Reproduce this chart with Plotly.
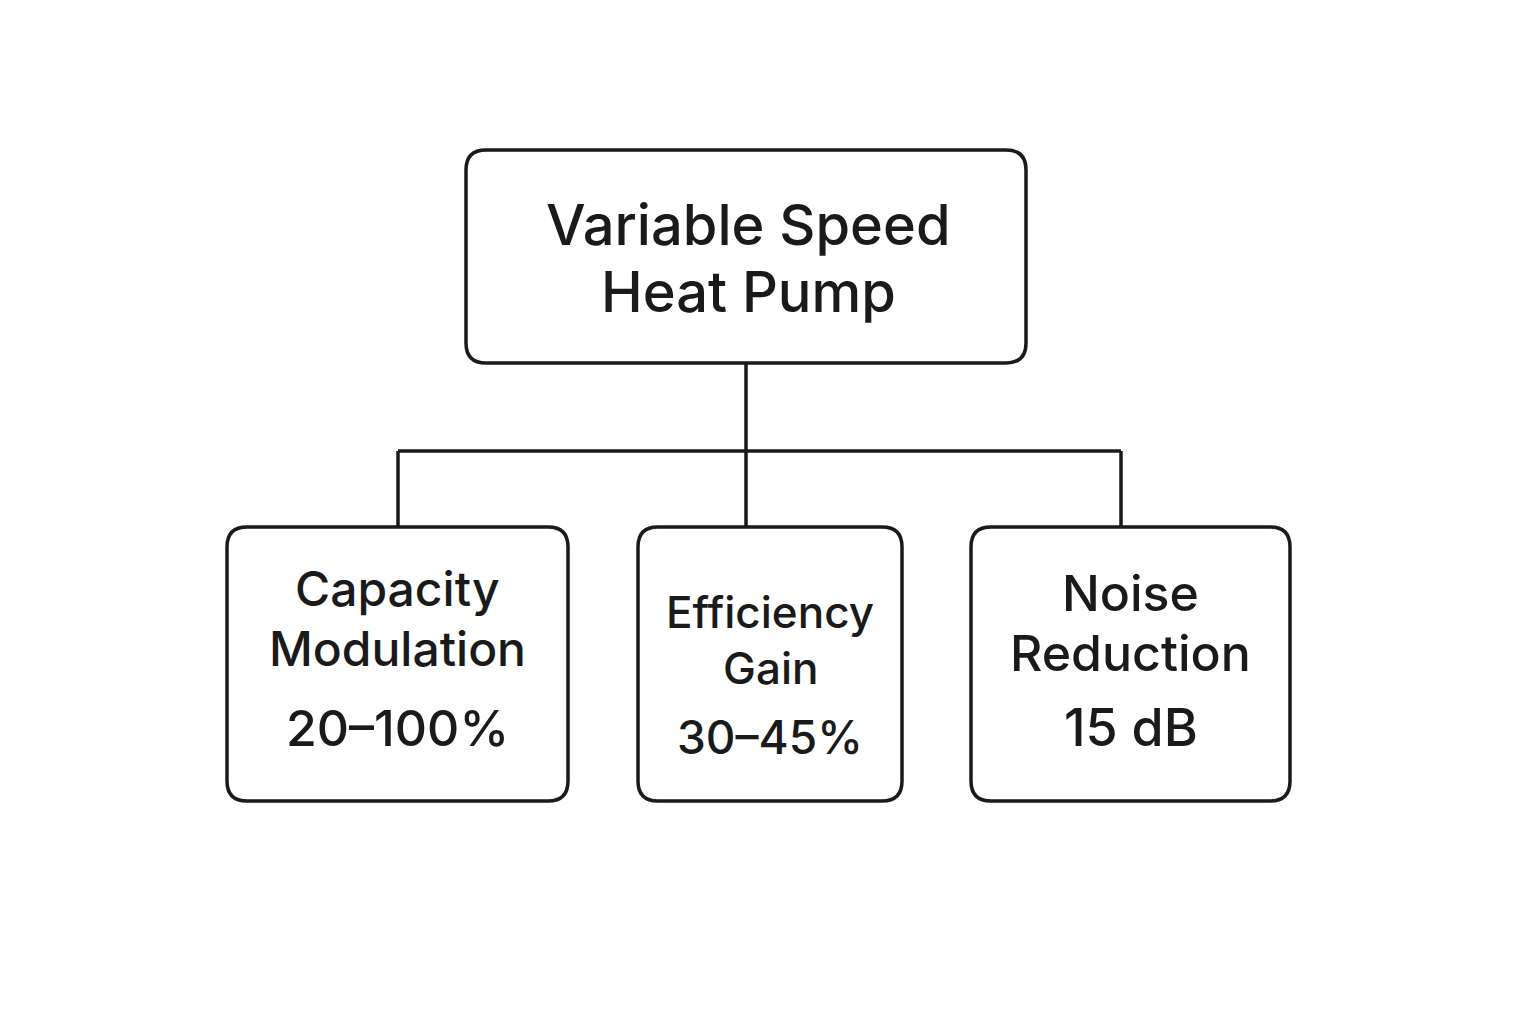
import plotly.graph_objects as go

root_lines = ["Variable Speed", "Heat Pump"]
child_titles = [["Capacity", "Modulation"], ["Efficiency", "Gain"], ["Noise", "Reduction"]]
child_values = ["20–100%", "30–45%", "15 dB"]

W, H = 1536, 1024
OFF = 8
INK = "#1a1a1a"
FONT = "Inter, Roboto, Liberation Sans, sans-serif"

root_box = (466, 150, 1026, 363)
child_boxes = [(227, 527, 568, 801), (638, 527, 902, 801), (971, 527, 1290, 801)]
child_line_y = [[588, 648, 728], [612, 668, 737], [593, 653, 727]]
child_sizes = [48, 44, 50]

def rrect(x0, y0, x1, y1, r=20):
    return (f"M{x0+r},{y0} L{x1-r},{y0} Q{x1},{y0} {x1},{y0+r} L{x1},{y1-r} "
            f"Q{x1},{y1} {x1-r},{y1} L{x0+r},{y1} Q{x0},{y1} {x0},{y1-r} "
            f"L{x0},{y0+r} Q{x0},{y0} {x0+r},{y0} Z")

fig = go.Figure()
shapes = []
line = dict(color=INK, width=3.5)
for b in [root_box] + child_boxes:
    shapes.append(dict(type="path", path=rrect(*b), line=line, fillcolor="white", layer="above"))
cx_root = (root_box[0] + root_box[2]) / 2
bar_y = 451
shapes.append(dict(type="line", x0=cx_root, x1=cx_root, y0=root_box[3], y1=bar_y, line=line))
tops = [398, 746, 1121]
shapes.append(dict(type="line", x0=tops[0], x1=tops[-1], y0=bar_y, y1=bar_y, line=line))
for tx, b in zip(tops, child_boxes):
    shapes.append(dict(type="line", x0=tx, x1=tx, y0=bar_y, y1=b[1], line=line))

ann = []
for t, y in zip(root_lines, [225, 292]):
    ann.append(dict(x=cx_root + 2, y=y, text=t, showarrow=False,
                    font=dict(size=56, color=INK, family=FONT, weight=500)))
for i, b in enumerate(child_boxes):
    cx = (b[0] + b[2]) / 2
    texts = child_titles[i] + [child_values[i]]
    for t, y in zip(texts, child_line_y[i]):
        ann.append(dict(x=cx, y=y, text=t, showarrow=False,
                        font=dict(size=child_sizes[i] + (2 if t == child_values[i] else 0),
                                  color=INK, family=FONT, weight=500)))

fig.update_layout(width=W, height=H, margin=dict(l=0, r=0, t=0, b=0),
                  paper_bgcolor="white", plot_bgcolor="white", shapes=shapes, annotations=ann,
                  xaxis=dict(range=[OFF, W + OFF], visible=False, fixedrange=True),
                  yaxis=dict(range=[H + OFF, OFF], visible=False, fixedrange=True),
                  showlegend=False)
fig.write_html("out.html")
